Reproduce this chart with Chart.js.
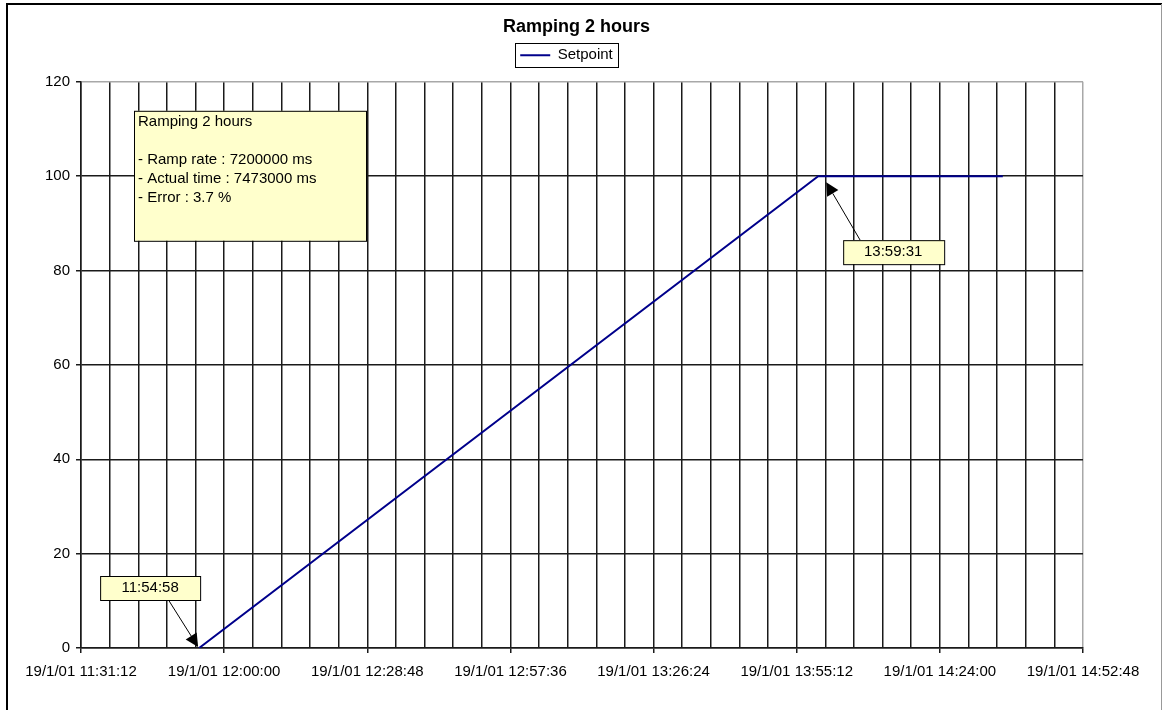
<!DOCTYPE html>
<html>
<head>
<meta charset="utf-8">
<title>Ramping 2 hours</title>
<script src="https://cdn.jsdelivr.net/npm/chart.js@4.4.0/dist/chart.umd.min.js"></script>
<style>
  html, body { margin: 0; padding: 0; background: #fff; }
  #wrap { width: 1163px; height: 710px; position: relative; }
</style>
</head>
<body>
<div id="wrap"><canvas id="chart" width="1163" height="710"></canvas></div>
<script>
// setpoint samples (clock time on 19/1/01, value)
const setpointTimes = ['11:54:58', '13:59:31', '14:36:40']
const setpointValues = [0, 100, 100]

// x axis: labelled every 28:48, grid line every 5:45.6
const axisStart = '11:31:12'
const axisEnd = '14:52:48'
const xTickLabels = [
    '19/1/01 11:31:12', '19/1/01 12:00:00', '19/1/01 12:28:48', '19/1/01 12:57:36',
    '19/1/01 13:26:24', '19/1/01 13:55:12', '19/1/01 14:24:00', '19/1/01 14:52:48'
]
const minorPerMajor = 5
const yMin = 0
const yMax = 120
const yStep = 20

const noteLines = ['Ramping 2 hours', '', '- Ramp rate : 7200000 ms', '- Actual time : 7473000 ms', '- Error : 3.7 %']
const startLabel = '11:54:58'
const endLabel = '13:59:31'

const FONT = '"Liberation Sans", Arial, sans-serif'
const legendShiftX = -10
const legendShiftY = -9

const toSec = (t) => {
    const [h, m, s] = t.split(':').map(Number)
    return h * 3600 + m * 60 + s
}
const xMax = toSec(axisEnd) - toSec(axisStart)
const minorStep = xMax / ((xTickLabels.length - 1) * minorPerMajor)
const lastMinor = (xTickLabels.length - 1) * minorPerMajor

const points = setpointTimes.map((t, i) => ({x: toSec(t) - toSec(axisStart), y: setpointValues[i]}))

const drawArrow = (ctx, x1, y1, x2, y2) => {
    const ang = Math.atan2(y2 - y1, x2 - x1)
    const len = 13, half = 6.5
    const bx = x2 - Math.cos(ang) * len, by = y2 - Math.sin(ang) * len
    ctx.strokeStyle = '#000'
    ctx.lineWidth = 1
    ctx.beginPath()
    ctx.moveTo(x1, y1)
    ctx.lineTo(bx, by)
    ctx.stroke()
    ctx.fillStyle = '#000'
    ctx.beginPath()
    ctx.moveTo(x2, y2)
    ctx.lineTo(bx - Math.sin(ang) * half, by + Math.cos(ang) * half)
    ctx.lineTo(bx + Math.sin(ang) * half, by - Math.cos(ang) * half)
    ctx.closePath()
    ctx.fill()
}

const drawBox = (ctx, x, y, w, h) => {
    ctx.fillStyle = '#ffffcc'
    ctx.fillRect(x, y, w, h)
    ctx.strokeStyle = '#000'
    ctx.lineWidth = 1
    ctx.strokeRect(x + 0.5, y + 0.5, w, h)
}

const decorations = {
    id: 'decorations',
    afterLayout(chart) {
        //legend sits a little left of the title and closer to it
        chart.legend.left += legendShiftX
        chart.legend.right += legendShiftX
        chart.legend.top += legendShiftY
        chart.legend.bottom += legendShiftY
    },
    beforeDraw(chart) {
        const {ctx, width, height} = chart
        ctx.save()
        ctx.fillStyle = '#fff'
        ctx.fillRect(0, 0, width, height)
        // outer chart frame
        ctx.strokeStyle = '#000'
        ctx.lineWidth = 2
        ctx.beginPath()
        ctx.moveTo(7, height + 2)
        ctx.lineTo(7, 4)
        ctx.lineTo(width - 1, 4)
        ctx.stroke()
        ctx.strokeStyle = '#999'
        ctx.lineWidth = 1
        ctx.beginPath()
        ctx.moveTo(width - 1.5, 4)
        ctx.lineTo(width - 1.5, height)
        ctx.stroke()
        ctx.restore()
    },
    afterDraw(chart) {
        const {ctx, chartArea} = chart
        const xs = chart.scales.x, ys = chart.scales.y
        ctx.save()

        // legend frame (hit boxes already follow the shifted legend)
        const hb = chart.legend.legendHitBoxes[0]
        if (hb) {
            ctx.strokeStyle = '#000'
            ctx.lineWidth = 1
            ctx.strokeRect(Math.round(hb.left - 5) + 0.5, Math.round(hb.top - 5) + 0.5, Math.round(hb.width + 10), Math.round(hb.height + 9))
        }

        // info note
        const nx = chartArea.left + 53, ny = chartArea.top + 29
        drawBox(ctx, nx, ny, 232, 130)
        ctx.fillStyle = '#000'
        ctx.font = '15px ' + FONT
        ctx.textBaseline = 'middle'
        ctx.textAlign = 'left'
        noteLines.forEach((line, i) => ctx.fillText(line, nx + 4, ny + 11 + i * 19))

        // callouts on ramp start / end
        const p0 = {x: xs.getPixelForValue(points[0].x), y: ys.getPixelForValue(points[0].y)}
        const p1 = {x: xs.getPixelForValue(points[1].x), y: ys.getPixelForValue(points[1].y)}

        drawArrow(ctx, p0.x - 30, p0.y - 47, p0.x - 1, p0.y - 1)
        drawBox(ctx, p0.x - 99, p0.y - 72, 100, 24)
        ctx.fillStyle = '#000'
        ctx.textAlign = 'center'
        ctx.fillText(startLabel, p0.x - 49, p0.y - 60)

        drawArrow(ctx, p1.x + 42, p1.y + 64, p1.x + 8, p1.y + 6)
        drawBox(ctx, p1.x + 25, p1.y + 64, 101, 24)
        ctx.fillStyle = '#000'
        ctx.fillText(endLabel, p1.x + 75, p1.y + 76)

        ctx.restore()
    }
}

new Chart(document.getElementById('chart'), {
    type: 'line',
    data: {
        datasets: [{
            label: 'Setpoint',
            data: points,
            borderColor: '#00008b',
            backgroundColor: '#00008b',
            borderWidth: 2,
            pointRadius: 0,
            tension: 0
        }]
    },
    options: {
        responsive: false,
        animation: false,
        devicePixelRatio: 1,
        layout: {padding: {top: 4, right: 10, bottom: 0, left: 0}},
        plugins: {
            title: {
                display: true,
                text: 'Ramping 2 hours',
                color: '#000',
                font: {family: FONT, size: 18, weight: 'bold', lineHeight: 1.1},
                padding: {top: 13, bottom: 12}
            },
            legend: {
                display: true,
                labels: {
                    color: '#000',
                    font: {family: FONT, size: 15},
                    usePointStyle: true,
                    pointStyle: 'line',
                    pointStyleWidth: 30,
                    padding: 8
                }
            },
            tooltip: {enabled: false}
        },
        scales: {
            x: {
                type: 'linear',
                min: 0,
                max: xMax,
                afterBuildTicks: (scale) => {
                    const ticks = []
                    for (let i = 0; i <= lastMinor; i++) ticks.push({value: i * minorStep})
                    scale.ticks = ticks
                },
                afterFit: (scale) => {
                    scale.height = 62
                    scale.paddingRight = 80
                },
                ticks: {
                    autoSkip: false,
                    maxRotation: 0,
                    minRotation: 0,
                    padding: 10,
                    color: '#000',
                    font: {family: FONT, size: 15},
                    callback: (value, index) => index % minorPerMajor === 0 ? xTickLabels[index / minorPerMajor] : ''
                },
                grid: {
                    color: (ctx) => ctx.index === lastMinor ? '#a8a8a8' : '#1a1a1a',
                    lineWidth: 1.5,
                    tickLength: 5,
                    tickWidth: 1.5,
                    tickColor: (ctx) => ctx.index % minorPerMajor === 0 ? '#1a1a1a' : 'rgba(0,0,0,0)'
                },
                border: {display: true, color: '#1a1a1a', width: 1.5}
            },
            y: {
                min: yMin,
                max: yMax,
                afterFit: (scale) => { scale.width = 81 },
                ticks: {
                    stepSize: yStep,
                    padding: 6,
                    color: '#000',
                    font: {family: FONT, size: 15}
                },
                grid: {
                    color: (ctx) => ctx.tick && ctx.tick.value === yMax ? '#a8a8a8' : '#1a1a1a',
                    lineWidth: 1.5,
                    tickLength: 5,
                    tickWidth: 1.5,
                    tickColor: '#1a1a1a'
                },
                border: {display: true, color: '#1a1a1a', width: 1.5}
            }
        }
    },
    plugins: [decorations]
})
</script>
</body>
</html>
